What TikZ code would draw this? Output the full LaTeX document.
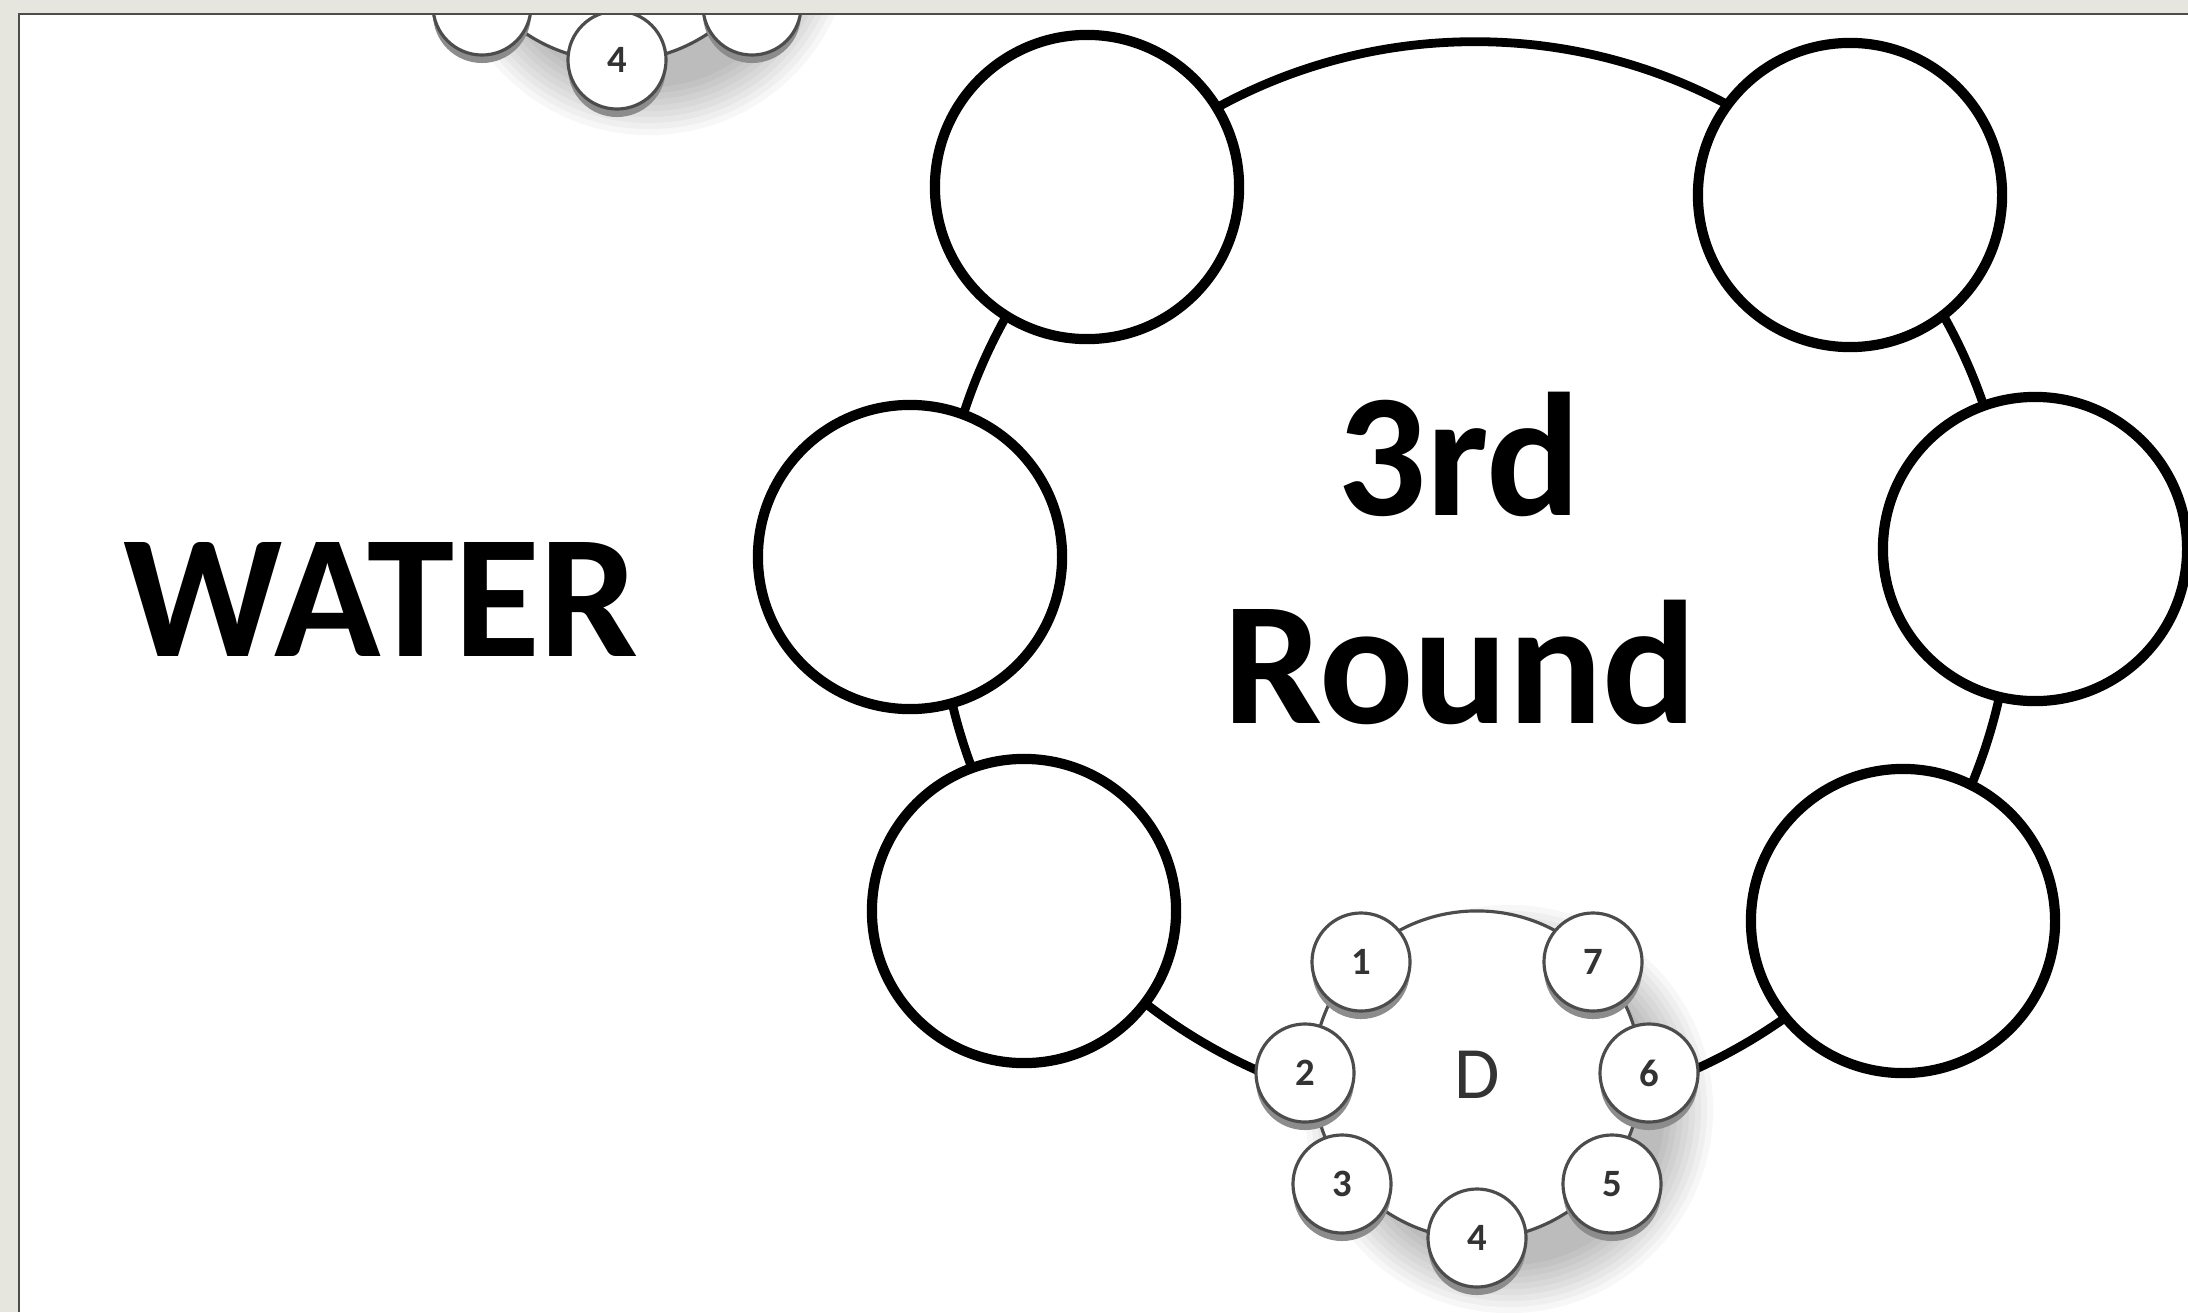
\documentclass[tikz,border=0pt]{standalone}
\usepackage{fontspec}
\setmainfont{Carlito}
\usepackage{xcolor}
\usepackage{tikz}
\usetikzlibrary{calc}
\definecolor{paper}{RGB}{230,230,222}

\begin{document}
\begin{tikzpicture}[
  x=0.01cm, y=-0.01cm,
  chair/.style={circle, draw=black, line width=2.9pt, fill=white, minimum size=3.04cm, inner sep=0pt},
  ring/.style={circle, draw=black, line width=2.5pt, minimum size=10.74cm, inner sep=0pt},
  tabletop/.style={circle, draw=black!70, line width=0.9pt, fill=white, minimum size=3.28cm, inner sep=0pt},
  seat/.style={circle, draw=black!70, line width=0.9pt, fill=white, minimum size=0.98cm, inner sep=0pt, text=black!80, font=\bfseries\fontsize{11}{11}\selectfont},
  seatside/.style={fill=black!45},
  title/.style={anchor=base, font=\bfseries\fontsize{50}{60}\selectfont}
]
  \useasboundingbox (0,0) rectangle (2188,1312);
  \fill[paper] (0,0) rectangle (2188,1312);
  \fill[white] (19,14) rectangle (2188,1312);
  \begin{scope}
    \clip (19,14) rectangle (2188,1312);
    \node[ring] (ring) at (1475,579) {};
    \node[chair] (c1) at (1087,187) {};
    \node[chair] (c2) at (1850,195) {};
    \node[chair] (c3) at (910,557) {};
    \node[chair] (c4) at (2035,549) {};
    \node[chair] (c5) at (1024,911) {};
    \node[chair] (c6) at (1903,921) {};
    \node[title] (water) at (381,656) {WATER};
    \node[title] (third) at (1459,515) {3rd};
    \node[title] (round) at (1460,723) {Round};
    % table D
    \coordinate (dtab) at (1477,1075);
    \foreach \k in {1,...,9}
      \fill[black, opacity=0.03] ($(dtab)+(32,34)$) circle[radius={1.5cm+\k*0.06cm}];
    \node[tabletop] (dtop) at (dtab) {};
    \foreach \k/\dx/\dy in {1/-116/-113, 2/-172/-2, 3/-135/109, 4/0/163, 5/135/109, 6/172/-2, 7/116/-113}
      \fill[seatside] ($(dtab)+(\dx,\dy)+(0,8)$) circle[radius=0.49cm];
    \foreach \k/\dx/\dy in {1/-116/-113, 2/-172/-2, 3/-135/109, 4/0/163, 5/135/109, 6/172/-2, 7/116/-113}
      \node[seat] (d\k) at ($(dtab)+(\dx,\dy)$) {\k};
    \node[text=black!80, font=\fontsize{21}{21}\selectfont] (dname) at (dtab) {D};
    % table above
    \coordinate (ctab) at (617,-103);
    \foreach \k in {1,...,9}
      \fill[black, opacity=0.03] ($(ctab)+(32,34)$) circle[radius={1.5cm+\k*0.06cm}];
    \node[tabletop] (ctop) at (ctab) {};
    \foreach \k/\dx/\dy in {1/-116/-113, 2/-172/-2, 3/-135/109, 4/0/163, 5/135/109, 6/172/-2, 7/116/-113}
      \fill[seatside] ($(ctab)+(\dx,\dy)+(0,8)$) circle[radius=0.49cm];
    \foreach \k/\dx/\dy in {1/-116/-113, 2/-172/-2, 3/-135/109, 5/135/109, 6/172/-2, 7/116/-113}
      \node[seat] (e\k) at ($(ctab)+(\dx,\dy)$) {};
    \node[seat] (e4) at ($(ctab)+(0,163)$) {4};
  \end{scope}
  \draw[black!70, line width=0.6pt] (19,1312) -- (19,14) -- (2188,14);
\end{tikzpicture}
\end{document}
